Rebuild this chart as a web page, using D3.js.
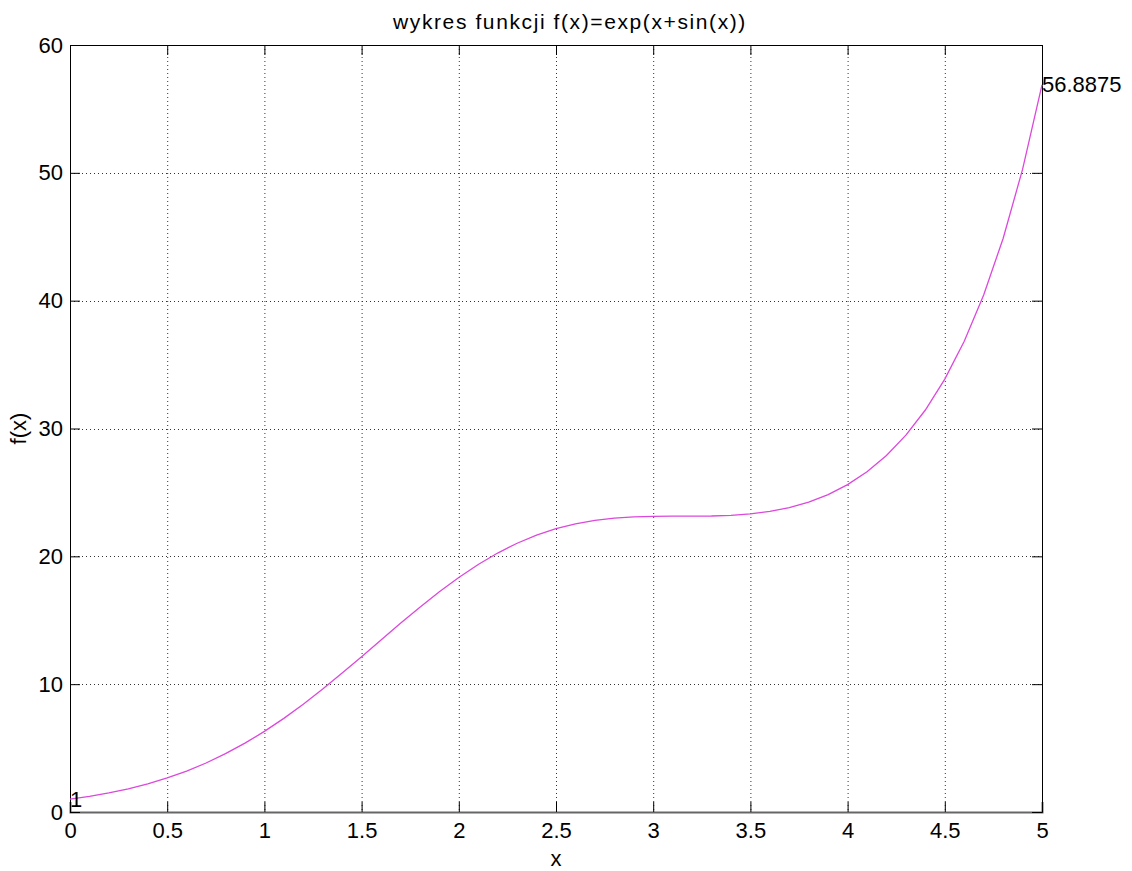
<!DOCTYPE html>
<html>
<head>
<meta charset="utf-8">
<script src="https://cdn.jsdelivr.net/npm/d3@7"></script>
<style>
  body { margin: 0; background: #fff; }
  svg text { font-family: "Liberation Sans", Arial, sans-serif; fill: #000; }
</style>
</head>
<body>
<div id="chart"></div>
<script>
// probki x co 0.1 i odczytane wartosci f(x)
const xs = [0, 0.1, 0.2, 0.3, 0.4, 0.5, 0.6, 0.7, 0.8, 0.9,
  1.0, 1.1, 1.2, 1.3, 1.4, 1.5, 1.6, 1.7, 1.8, 1.9,
  2.0, 2.1, 2.2, 2.3, 2.4, 2.5, 2.6, 2.7, 2.8, 2.9,
  3.0, 3.1, 3.2, 3.3, 3.4, 3.5, 3.6, 3.7, 3.8, 3.9,
  4.0, 4.1, 4.2, 4.3, 4.4, 4.5, 4.6, 4.7, 4.8, 4.9, 5.0];
const ys = [1.000, 1.221, 1.490, 1.814, 2.202, 2.663, 3.205, 3.835, 4.561, 5.384,
  6.305, 7.324, 8.432, 9.618, 10.864, 12.152, 13.458, 14.756, 16.018, 17.223,
  18.343, 19.360, 20.257, 21.025, 21.660, 22.164, 22.544, 22.814, 22.988, 23.085,
  23.129, 23.141, 23.141, 23.157, 23.208, 23.317, 23.511, 23.811, 24.241, 24.832,
  25.613, 26.619, 27.892, 29.480, 31.447, 33.866, 36.826, 40.447, 44.866, 50.271, 56.888];
const xTicks = [0, 0.5, 1, 1.5, 2, 2.5, 3, 3.5, 4, 4.5, 5];
const yTicks = [0, 10, 20, 30, 40, 50, 60];
const annotations = [
  { x: 0, y: 1, label: '1' },
  { x: 5, y: 56.8875, label: '56.8875' }
];
const title = 'wykres funkcji f(x)=exp(x+sin(x))';

const width = 1132, height = 871;
const margin = { top: 45, right: 90, bottom: 59, left: 70 };
const innerW = width - margin.left - margin.right;
const innerH = height - margin.top - margin.bottom;
const fontSize = 22;

const svg = d3.select('#chart').append('svg')
  .attr('width', width)
  .attr('height', height);

const g = svg.append('g')
  .attr('transform', `translate(${margin.left},${margin.top})`);

const x = d3.scaleLinear().domain([0, 5]).range([0, innerW]);
const y = d3.scaleLinear().domain([0, 60]).range([innerH, 0]);

// siatka (kropkowana)
g.append('g').selectAll('line')
  .data(xTicks.slice(1, -1))
  .enter().append('line')
  .attr('x1', d => x(d) + 0.5).attr('x2', d => x(d) + 0.5)
  .attr('y1', 0).attr('y2', innerH)
  .attr('stroke', '#333').attr('stroke-width', 1)
  .attr('stroke-dasharray', '1,3');

g.append('g').selectAll('line')
  .data(yTicks.slice(1, -1))
  .enter().append('line')
  .attr('x1', 0).attr('x2', innerW)
  .attr('y1', d => Math.round(y(d)) + 0.5).attr('y2', d => Math.round(y(d)) + 0.5)
  .attr('stroke', '#333').attr('stroke-width', 1)
  .attr('stroke-dasharray', '1,3');

// osie
const tickLen = 10;
const xAxis = g.append('g')
  .attr('transform', `translate(0,${innerH})`)
  .call(d3.axisBottom(x).tickValues(xTicks).tickSize(-tickLen).tickPadding(10)
    .tickFormat(d3.format('')));
const xAxisTop = g.append('g')
  .call(d3.axisTop(x).tickValues(xTicks).tickSize(-tickLen).tickFormat(''));
const yAxis = g.append('g')
  .call(d3.axisLeft(y).tickValues(yTicks).tickSize(-tickLen).tickPadding(7));
const yAxisRight = g.append('g')
  .attr('transform', `translate(${innerW},0)`)
  .call(d3.axisRight(y).tickValues(yTicks).tickSize(-tickLen).tickFormat(''));

[xAxis, xAxisTop, yAxis, yAxisRight].forEach(a => {
  a.select('.domain').attr('stroke', '#000').attr('stroke-width', 1);
  a.selectAll('.tick line').attr('stroke', '#000');
  a.selectAll('.tick text').attr('font-size', fontSize).attr('font-family', '"Liberation Sans", Arial, sans-serif');
});
xAxis.select('.domain').attr('stroke', '#666').attr('stroke-width', 2);

// wykres funkcji
const line = d3.line()
  .x(d => x(d[0]))
  .y(d => y(d[1]));

g.append('path')
  .datum(d3.zip(xs, ys))
  .attr('d', line)
  .attr('fill', 'none')
  .attr('stroke', '#dc48dc')
  .attr('stroke-width', 1.3);

// etykiety punktow
g.selectAll('.ann')
  .data(annotations)
  .enter().append('text')
  .attr('class', 'ann')
  .attr('x', d => x(d.x))
  .attr('y', d => y(d.y))
  .attr('dy', '0.35em')
  .attr('font-size', fontSize)
  .text(d => d.label);

// tytul i opisy osi
svg.append('text')
  .attr('x', 570)
  .attr('y', 29)
  .attr('text-anchor', 'middle')
  .attr('font-size', 21)
  .attr('letter-spacing', 1.6)
  .text(title);

svg.append('text')
  .attr('x', margin.left + innerW / 2)
  .attr('y', 866)
  .attr('text-anchor', 'middle')
  .attr('font-size', fontSize)
  .text('x');

svg.append('text')
  .attr('transform', `translate(26,${margin.top + innerH / 2}) rotate(-90)`)
  .attr('text-anchor', 'middle')
  .attr('font-size', fontSize)
  .text('f(x)');
</script>
</body>
</html>
